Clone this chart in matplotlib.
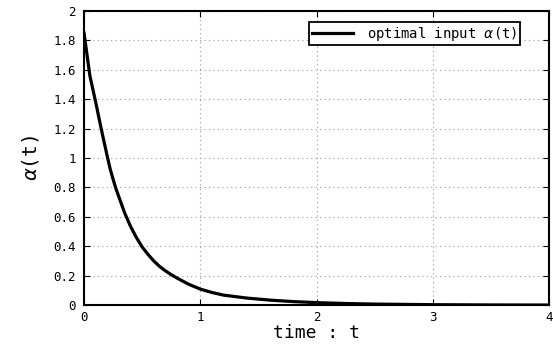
import numpy as np
import matplotlib
matplotlib.use('Agg')
import matplotlib.pyplot as plt

# values
t = [0, 0.05, 0.1, 0.15, 0.2, 0.225, 0.25, 0.275, 0.3, 0.35, 0.4, 0.45, 0.5,
     0.55, 0.6, 0.65, 0.7, 0.75, 0.8, 0.9, 1.0, 1.1, 1.2, 1.4, 1.6, 1.8, 2.0,
     2.25, 2.5, 3.0, 3.5, 4.0]
alpha = [1.85, 1.56, 1.38, 1.19, 1.01, 0.925, 0.855, 0.79, 0.735, 0.625, 0.535,
         0.46, 0.395, 0.345, 0.30, 0.263, 0.233, 0.207, 0.184, 0.142, 0.109,
         0.086, 0.068, 0.048, 0.034, 0.024, 0.017, 0.011, 0.007, 0.003,
         0.0012, 0.0005]

x_ticks = [0, 1, 2, 3, 4]
y_ticks = [0, 0.2, 0.4, 0.6, 0.8, 1.0, 1.2, 1.4, 1.6, 1.8, 2.0]
y_labels = ['0', '0.2', '0.4', '0.6', '0.8', '1', '1.2', '1.4', '1.6', '1.8', '2']

plt.rcParams['font.family'] = ['DejaVu Sans Mono']

fig = plt.figure(figsize=(5.53, 3.44), dpi=100)
ax = fig.add_axes([0.152, 0.113, 0.841, 0.855])

ax.plot(t, alpha, color='black', linewidth=2.3, label=r'optimal input $\alpha$(t)')

ax.set_xlim(0, 4)
ax.set_ylim(0, 2)
ax.set_xticks(x_ticks)
ax.set_xticklabels([str(v) for v in x_ticks])
ax.set_yticks(y_ticks)
ax.set_yticklabels(y_labels)
ax.tick_params(direction='in', top=True, right=True, labelsize=9, length=4)
ax.tick_params(axis='x', pad=4)
ax.tick_params(axis='y', pad=6)
ax.grid(True, linestyle=(0, (1, 3)), color='#999999', linewidth=0.8)

for s in ax.spines.values():
    s.set_linewidth(1.5)

ax.set_xlabel('time : t', fontsize=13, labelpad=0)
ax.set_ylabel(r'$\alpha$(t)', fontsize=14, labelpad=9)

leg = ax.legend(loc='upper right', bbox_to_anchor=(0.938, 0.963), fontsize=10,
                frameon=True, fancybox=False, edgecolor='black', framealpha=1,
                borderaxespad=0, handlelength=3.0, handletextpad=1.0,
                borderpad=0.2)
leg.get_frame().set_linewidth(1.3)

fig.savefig('out.png', dpi=100)
